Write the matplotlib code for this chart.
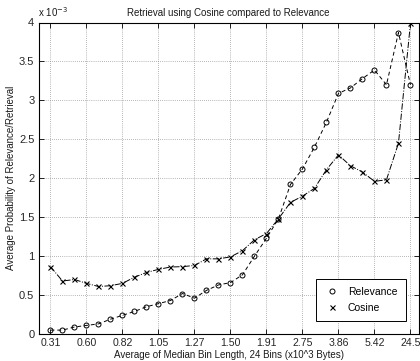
import numpy as np
import matplotlib
matplotlib.use("Agg")
import matplotlib.pyplot as plt
from matplotlib.lines import Line2D
from matplotlib.ticker import FuncFormatter

plt.rcParams['font.family'] = ['Liberation Sans', 'DejaVu Sans']

# values, in units of 1e-3
relevance = [0.05, 0.05, 0.09, 0.11, 0.13, 0.19, 0.24, 0.29, 0.35, 0.39,
             0.43, 0.52, 0.46, 0.56, 0.63, 0.66, 0.76, 1.00, 1.23, 1.48,
             1.92, 2.12, 2.40, 2.72, 3.09, 3.16, 3.28, 3.39, 3.20, 3.87, 3.20]
cosine = [0.865, 0.68, 0.70, 0.65, 0.61, 0.62, 0.65, 0.73, 0.79, 0.83,
          0.86, 0.865, 0.88, 0.965, 0.965, 0.99, 1.07, 1.21, 1.29, 1.48,
          1.69, 1.77, 1.87, 2.11, 2.30, 2.16, 2.08, 1.96, 1.98, 2.45, 3.99]
tick_labels = ['0.31', '0.60', '0.82', '1.05', '1.27', '1.50',
               '1.91', '2.75', '3.86', '5.42', '24.5']

x = np.arange(1, len(relevance) + 1)

fig = plt.figure(figsize=(4.2, 3.61), dpi=100)
ax = fig.add_axes([38.5 / 420, 27 / 361, (418.5 - 38.5) / 420, (338.5 - 27) / 361])

ax.plot(x, relevance, color='k', linestyle='--', linewidth=0.7,
        marker='o', markersize=3.6, markerfacecolor='none', markeredgewidth=0.7,
        dashes=(4, 3))
ax.plot(x, cosine, color='k', linestyle='-.', linewidth=0.7,
        marker='x', markersize=3.6, markeredgewidth=0.8)

ax.set_xlim(0, 31.67)
ax.set_ylim(0, 4)
ax.set_xticks(x[::3])
ax.set_xticklabels(tick_labels)
ax.set_yticks(np.arange(0, 4.01, 0.5))
ax.yaxis.set_major_formatter(FuncFormatter(lambda v, p: '%g' % v))

ax.tick_params(direction='in', top=True, right=True, length=3.5, width=0.6,
               labelsize=8, pad=3, labelcolor='0.15')
ax.tick_params(axis='x', labelsize=7.6)
ax.grid(True, linestyle=(0, (1, 2)), color='0.45', linewidth=0.5)
for s in ax.spines.values():
    s.set_linewidth(0.8)

ax.set_title('Retrieval using Cosine compared to Relevance', fontsize=7, pad=5, color='0.1')
ax.set_xlabel('Average of Median Bin Length, 24 Bins (x10^3 Bytes)', fontsize=7,
              labelpad=1, color='0.1')
ax.set_ylabel('Average Probability of Relevance/Retrieval', fontsize=7, labelpad=2,
              color='0.1')
ax.text(0.0, 1.012, 'x 10$^{-3}$', transform=ax.transAxes, fontsize=7,
        ha='left', va='bottom', color='0.1')

handles = [Line2D([], [], color='k', linestyle='none', marker='o', markersize=3.6,
                  markerfacecolor='none', markeredgewidth=0.7),
           Line2D([], [], color='k', linestyle='none', marker='x', markersize=3.6,
                  markeredgewidth=0.8)]
leg = ax.legend(handles, ['Relevance', 'Cosine'], loc='lower right', fontsize=7.5,
                fancybox=False, framealpha=1, edgecolor='k', handlelength=1.5,
                borderpad=0.8, labelspacing=0.55, handletextpad=0.8,
                bbox_to_anchor=(0.98, 0.025))
leg.get_frame().set_linewidth(0.7)

fig.savefig('out.png', dpi=100)
